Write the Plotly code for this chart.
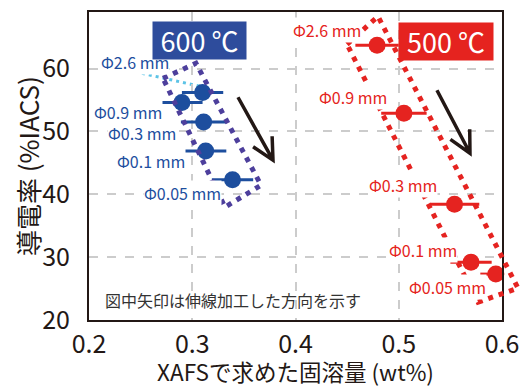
import math
import plotly.graph_objects as go

# ---------------- data ----------------
diam_labels = ["Φ2.6 mm", "Φ0.9 mm", "Φ0.3 mm", "Φ0.1 mm", "Φ0.05 mm"]

x600 = [0.310, 0.290, 0.311, 0.313, 0.339]
y600 = [56.2, 54.6, 51.5, 46.9, 42.3]
e600 = [0.020, 0.020, 0.022, 0.020, 0.020]

x500 = [0.479, 0.505, 0.554, 0.570, 0.594]
y500 = [63.7, 52.9, 38.4, 29.2, 27.3]
e500 = [0.021, 0.022, 0.024, 0.020, 0.015]

# label anchor positions (right edge of text), data units
lab600_x = [0.2785, 0.2717, 0.2852, 0.2939, 0.3288]
lab600_y = [61.0, 53.05, 49.7, 45.26, 40.17]
lab500_x = [0.4644, 0.4896, 0.5380, 0.5574, 0.5855]
lab500_y = [66.1, 55.4, 41.45, 31.1, 25.2]

# dotted boxes (corners, data units)
box600 = [(0.2717, 58.46), (0.3036, 60.84), (0.3666, 41.45), (0.3317, 37.95)]
box500 = [(0.4499, 63.86), (0.4799, 68.31), (0.6155, 25.07), (0.5768, 22.84)]

# drawing-direction arrows (tail, tip), data units
arrow600 = [(0.3443, 55.44), (0.3782, 45.42)]
arrow500 = [(0.5370, 56.55), (0.5690, 46.53)]

# leader line for 600 °C Φ2.6
leader600 = [(0.2513, 59.25), (0.3075, 57.18)]

X0, X1 = 0.2, 0.6
Y0, Y1 = 20, 69
xticks = [0.2, 0.3, 0.4, 0.5, 0.6]
yticks = [20, 30, 40, 50, 60]

x_title = "XAFSで求めた固溶量 (wt%)"
y_title = "導電率 (%IACS)"

# ---------------- style ----------------
BLUE = "#1D4E9E"
RED = "#E52320"
BOXBLUE = "#4D3F9C"
INK = "#231815"
FONT = "Noto Sans CJK JP"

W, H = 522, 388
ML, MR, MT, MB = 89, 20, 12, 68
PW, PH = W - ML - MR, H - MT - MB


def px(x):
    return (x - X0) / (X1 - X0)


def py(y):
    return (y - Y0) / (Y1 - Y0)


fig = go.Figure()

fig.add_trace(go.Scatter(
    x=x600, y=y600, mode="markers",
    marker=dict(size=17, color=BLUE),
    error_x=dict(type="data", array=e600, color=BLUE, thickness=3, width=0),
    cliponaxis=False, showlegend=False, hoverinfo="skip"))
fig.add_trace(go.Scatter(
    x=x500, y=y500, mode="markers",
    marker=dict(size=17, color=RED),
    error_x=dict(type="data", array=e500, color=RED, thickness=3, width=0),
    cliponaxis=False, showlegend=False, hoverinfo="skip"))

shapes = []


def box_path(pts):
    s = "M " + " L ".join(f"{px(x):.5f},{py(y):.5f}" for x, y in pts) + " Z"
    return s


shapes.append(dict(type="path", xref="paper", yref="paper", path=box_path(box600),
                   line=dict(color=BOXBLUE, width=5, dash="5px,6px"), layer="above"))
shapes.append(dict(type="path", xref="paper", yref="paper", path=box_path(box500),
                   line=dict(color=RED, width=5, dash="5px,6px"), layer="above"))

# leader line
shapes.append(dict(type="line", xref="x", yref="y",
                   x0=leader600[0][0], y0=leader600[0][1],
                   x1=leader600[1][0], y1=leader600[1][1],
                   line=dict(color="#5CC3E6", width=3, dash="3px,4px"), layer="below"))


def arrow_path(tail, tip, L=24, ang=27):
    tx, ty = px(tail[0]) * PW, py(tail[1]) * PH
    hx, hy = px(tip[0]) * PW, py(tip[1]) * PH
    dx, dy = tx - hx, ty - hy
    n = math.hypot(dx, dy)
    ux, uy = dx / n, dy / n
    arms = []
    for s in (1, -1):
        a = math.radians(ang * s)
        rx = ux * math.cos(a) - uy * math.sin(a)
        ry = ux * math.sin(a) + uy * math.cos(a)
        arms.append(((hx + L * rx) / PW, (hy + L * ry) / PH))
    p = (f"M {tx/PW:.5f},{ty/PH:.5f} L {hx/PW:.5f},{hy/PH:.5f} "
         f"M {arms[0][0]:.5f},{arms[0][1]:.5f} L {hx/PW:.5f},{hy/PH:.5f} "
         f"L {arms[1][0]:.5f},{arms[1][1]:.5f}")
    return p


for arr in (arrow600, arrow500):
    shapes.append(dict(type="path", xref="paper", yref="paper",
                       path=arrow_path(arr[0], arr[1]),
                       line=dict(color=INK, width=3.5), layer="above"))

annotations = []
for t, x, y in zip(diam_labels, lab600_x, lab600_y):
    annotations.append(dict(x=x, y=y, xref="x", yref="y", text=t, showarrow=False,
                            xanchor="right", yanchor="middle",
                            font=dict(family=FONT, size=16, color=BLUE),
                            bgcolor="white", borderpad=0))
for t, x, y in zip(diam_labels, lab500_x, lab500_y):
    annotations.append(dict(x=x, y=y, xref="x", yref="y", text=t, showarrow=False,
                            xanchor="right", yanchor="middle",
                            font=dict(family=FONT, size=16, color=RED),
                            bgcolor="white", borderpad=0))

annotations.append(dict(x=0.3075, y=64.5, xref="x", yref="y", text="600 ℃",
                        showarrow=False, xanchor="center", yanchor="middle",
                        font=dict(family=FONT, size=27, color="white"),
                        bgcolor="#2E4C9C", width=89, height=33, borderpad=2))
annotations.append(dict(x=0.5458, y=64.3, xref="x", yref="y", text="500 ℃",
                        showarrow=False, xanchor="center", yanchor="middle",
                        font=dict(family=FONT, size=27, color="white"),
                        bgcolor="#E5231F", width=90, height=33, borderpad=2))
annotations.append(dict(x=0.2136, y=23.2, xref="x", yref="y",
                        text="図中矢印は伸線加工した方向を示す",
                        showarrow=False, xanchor="left", yanchor="middle",
                        font=dict(family=FONT, size=16, color="#333333")))

# axis titles placed as annotations
annotations.append(dict(x=0.5, y=-51 / PH, xref="paper", yref="paper", text=x_title,
                        showarrow=False, xanchor="center", yanchor="middle",
                        font=dict(family=FONT, size=22.5, color=INK)))
annotations.append(dict(x=-(ML - 27) / PW, y=0.5, xref="paper", yref="paper", text=y_title,
                        showarrow=False, xanchor="center", yanchor="middle", textangle=-90,
                        font=dict(family=FONT, size=26, color=INK)))

fig.update_layout(
    width=W, height=H,
    margin=dict(l=ML, r=MR, t=MT, b=MB, autoexpand=False),
    paper_bgcolor="white", plot_bgcolor="white",
    font=dict(family=FONT, color=INK),
    shapes=shapes, annotations=annotations,
    showlegend=False,
)
fig.update_xaxes(
    range=[X0, X1], tickvals=xticks, ticktext=[f"{v:.1f}" for v in xticks],
    showline=True, linecolor=INK, linewidth=2, mirror=True, automargin=False,
    showgrid=True, gridcolor="#cccccc", gridwidth=1.5, griddash="dash",
    zeroline=False, ticks="", tickfont=dict(family=FONT, size=25, color=INK),
    ticklabelstandoff=1,
)
fig.update_yaxes(
    range=[Y0, Y1], tickvals=yticks,
    showline=True, linecolor=INK, linewidth=2, mirror=True, automargin=False,
    showgrid=True, gridcolor="#cccccc", gridwidth=1.5, griddash="dash",
    zeroline=False, ticks="", tickfont=dict(family=FONT, size=25, color=INK),
    ticklabelstandoff=12,
)

fig.write_html("out.html", config={"displayModeBar": False},
               post_script="document.body.style.margin='0';")
